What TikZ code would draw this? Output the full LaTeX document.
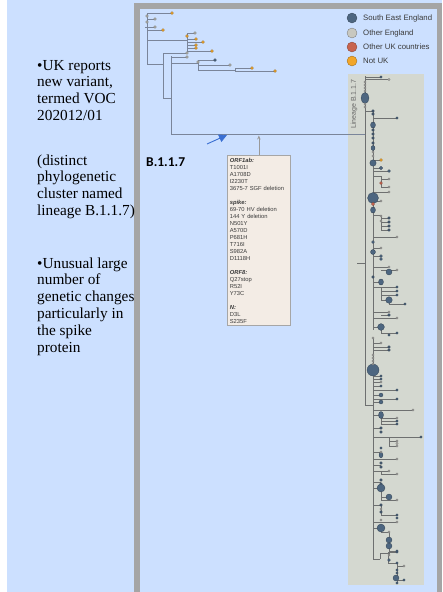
\documentclass[tikz,border=0pt]{standalone}
\usepackage{fontspec}
\setmainfont{Liberation Serif}
\setsansfont{Liberation Sans}
\newfontfamily\calibfont{Carlito}
\usetikzlibrary{arrows.meta}
\definecolor{bgblue}{HTML}{CCE0FF}
\definecolor{framegray}{HTML}{A5A5A5}
\definecolor{panelgray}{HTML}{D4D8D0}
\definecolor{boxfill}{HTML}{F3ECE5}
\definecolor{toptree}{HTML}{7A859A}
\definecolor{treegray}{HTML}{6E7070}
\definecolor{seblue}{HTML}{4D6680}
\definecolor{othereng}{HTML}{C8C8C0}
\definecolor{ukred}{HTML}{C8644F}
\definecolor{notuk}{HTML}{F2A62A}
\definecolor{arrowblue}{HTML}{3A6FD2}
\definecolor{txtgray}{HTML}{3A3A3A}
\tikzset{
  lefttext/.style={font=\fontsize{15.3}{16}\selectfont, text=black, inner sep=0pt, anchor=base west},
  legtext/.style={font=\sffamily\fontsize{7.8}{9}\selectfont, text=txtgray, inner sep=0pt, anchor=west},
  tt/.style={draw=toptree, line width=0.9pt},
  lt/.style={draw=treegray, line width=0.55pt},
  dk/.style={fill=seblue, draw=seblue!60!black, line width=0.25pt},
  gy/.style={fill=othereng, draw=black!55, line width=0.3pt},
  og/.style={fill=notuk, draw=notuk!55!black, line width=0.25pt},
  rd/.style={fill=ukred, draw=ukred!60!black, line width=0.25pt},
}
\begin{document}
\begin{tikzpicture}[x=1pt,y=-1pt]
\useasboundingbox (0,0) rectangle (442,592);
\fill[white] (0,0) rectangle (442,592);
\fill[bgblue] (7,0) rectangle (442,592);
% frame
\fill[framegray] (134,3) rectangle (442,592);
\fill[bgblue] (140,8.5) rectangle (437,592);
% left text
\foreach \t [count=\i] in {{•UK reports},{new variant,},{termed VOC},{202012/01}}
  \node[lefttext] (pa\i) at (37,{70+16.8*(\i-1)}) {\t};
\foreach \t [count=\i] in {{(distinct},{phylogenetic},{cluster named},{lineage B.1.1.7)}}
  \node[lefttext] (pb\i) at (37,{165+16.8*(\i-1)}) {\t};
\foreach \t [count=\i] in {{•Unusual large},{number of},{genetic changes},{particularly in},{the spike},{protein}}
  \node[lefttext] (pc\i) at (37,{268+16.8*(\i-1)}) {\t};
% legend
\foreach \c/\t/\y [count=\i] in {dk/South East England/18, gy/Other England/33, rd/Other UK countries/47, og/Not UK/61}{
  \fill[\c] (352,\y) circle (5pt);
  \node[legtext] (leg\i) at (363,\y) {\t};
}
% lineage panel
\fill[panelgray] (348,74) rectangle (424,585);
\node[rotate=90, font=\sffamily\fontsize{7}{8}\selectfont, text=black!60, inner sep=0pt] (lin) at (354,104) {Lineage B.1.1.7};
% top tree
\draw[tt] (147,13) -- (147,64);
\draw[tt] (147,13) -- (172,13);
\draw[tt] (147,19) -- (155,19);
\draw[tt] (145,27) -- (155,27);
\draw[tt] (147,30) -- (163,30);
\draw[tt] (147,40) -- (187,40);
\draw[tt] (187,33) -- (187,51);
\foreach \y/\x in {33/195,39/196,42/203,45/196,48/196,51/212} \draw[tt] (187,\y) -- (\x,\y);
\draw[tt] (147,64) -- (163,64);
\draw[tt] (163,53) -- (163,98) -- (171,98);
\draw[tt] (163,53) -- (187,53);
\draw[tt] (171,56) -- (171,134) -- (365,134);
\draw[tt] (171,57) -- (187,57);
\draw[tt] (171,63) -- (198,63);
\draw[tt] (198,60) -- (198,70);
\draw[tt] (198,60) -- (215,60);
\draw[tt] (198,65) -- (230,65);
\draw[tt] (198,70) -- (235,70);
\draw[tt] (235,68) -- (235,71);
\draw[tt] (235,68) -- (252,68);
\draw[tt] (235,71) -- (275,71);
\foreach \x/\y in {172/13,163/30,187/36,196/39,203/42,196/45,196/48,212/51,252/68,275/71} \fill[og] (\x,\y) circle (1.5pt);
\foreach \x/\y in {147/16,155/19,147/22,155/27,195/33,187/53,187/57,198/62,230/65} \fill[gy] (\x,\y) circle (1.4pt);
\fill[dk] (215,60) circle (1.5pt);
% lineage tree lines
\foreach \x/\a/\b in {365/76/405, 373/110/330, 373/338/559, 381/176/187, 381/215/230, 381/287/300, 389/300/304, 381/327/333, 381/413/424, 389/437/446, 381/471/474, 381/488/500, 381/505/515, 381/528/532, 389/532/556, 380/553/559, 388/553/563, 397/563/583}
  \draw[lt] (\x,\a) -- (\x,\b);
\foreach \a/\y/\b in {365/77/381, 365/79.5/389, 365/111/373, 373/118/397, 373/160/381, 373/168/381, 373/171/389, 373/176/381, 381/179/389, 381/187/389, 373/192/389, 373/201/381, 373/215/381, 381/218/389, 381/222/389, 381/226/389, 381/230/389, 373/237/397, 373/248/381, 373/256/381, 357/263/365, 373/267/389, 381/270/397, 373/282/381, 373/287/381, 381/287/397, 381/291/397, 381/295/397, 381/300/389, 389/304/405, 373/312/389, 381/315/389, 373/318/397, 373/327/381, 381/333/397, 373/343/381, 373/347/389, 373/350/389, 373/376/381, 373/379/381, 373/382/381, 373/386/381, 373/390/397, 373/395/381, 373/399/397, 373/402/381, 365/405/373, 373/410/413, 373/415/381, 381/418/397, 381/421/397, 381/424/397, 373/428/381, 373/437/389, 389/437/421, 389/441/397, 389/446/397, 373/452/381, 373/459/397, 373/465/381, 373/471/389, 381/474/397, 373/482/381, 373/488/381, 381/497/389, 381/500/397, 373/505/381, 381/515/397, 373/522/397, 373/528/381, 381/532/389, 389/551/397, 373/559/380, 380/553/388, 388/552/397, 388/563/397, 397/566/404, 397/580/404}
  \draw[lt] (\a,\y) -- (\b,\y);
% lineage tips
\foreach \x/\y/\r in {381/77/1.3, 373/111/1.4, 373/114/1.4, 397/118/1.3, 373/130/1.4, 373/134/1.4, 373/138/1.4, 373/143/1.4, 373/163/3.2, 381/168/1.8, 389/171/1.5, 389/218/1.4, 389/222/1.4, 389/226/1.4, 389/230/1.4, 373/242/1.5, 373/252/2.5, 381/256/1.5, 381/259/1.5, 389/272/3, 373/277/1.4, 397/287/1.3, 397/291/1.3, 397/295/1.3, 389/300/3.3, 405/304/1.3, 389/315/1.4, 381/327/3.4, 397/333/1.3, 389/335/1.3, 389/347/1.4, 389/350/1.4, 373/370/6, 381/376/1.3, 381/379/1.3, 381/386/1.3, 397/390/1.3, 381/395/2, 397/399/1.3, 381/402/2, 397/421/1.3, 397/424/1.3, 381/428/1.4, 381/432/1.4, 421/437/1.3, 381/448/1.3, 381/463/1.4, 381/467/1.4, 381/480/1.4, 381/484/1.4, 381/488/4, 389/497/3, 381/505/1.4, 381/512/1.4, 397/515/1.3, 397/518/1.3, 381/528/4, 389/540/3, 389/546/3, 397/551/1.3, 397/552/1.3, 389/560/1.5, 397/563/1.3, 397/570/1.3, 397/573/1.3, 396/578/3, 404/580/1.3, 397/583/1.3, 373/198/5.5}
  \fill[dk] (\x,\y) circle (\r pt);
\foreach \x/\y/\a/\b in {365/98/4/5.5, 373/125/2.5/3, 373/148/2/2.5, 373/210/2.5/3, 381/282/2.5/3, 381/415/2.5/3.5, 381/455/2/2.8}
  \fill[dk] (\x,\y) ellipse [x radius=\a pt, y radius=\b pt];
\foreach \x/\y in {389/79.5, 365/82, 365/85, 365/88, 365/91, 365/104, 365/107, 373/152, 373/156, 389/179, 389/187, 389/192, 381/201, 381/216, 381/221, 397/237, 381/248, 389/267, 397/270, 389/312, 397/318, 373/338, 381/343, 373/355, 373/358, 373/361, 373/364, 381/382, 413/410, 397/418, 397/441, 397/443.5, 397/446, 381/452, 397/459, 389/471, 397/474, 397/500, 381/509, 381/520, 397/522, 389/532, 389/555, 404/566}
  \fill[gy] (\x,\y) circle (1.2pt);
\fill[og] (381,160) circle (1.5pt);
\fill[rd] (381,183) circle (1.5pt);
\fill[rd] (373,204) circle (1.7pt);
% mutation box
\node[draw=black!35, fill=boxfill, line width=0.7pt, anchor=north west, inner xsep=2.5pt, inner ysep=2.5pt, text width=58pt, align=left, text=txtgray, font=\sffamily\fontsize{5.8}{7}\selectfont] (mut) at (227,155)
{\textbf{\textit{ORF1ab:}}\\T1001I\\A1708D\\I2230T\\3675-7 SGF deletion\\[7pt]
\textbf{\textit{spike:}}\\69-70 HV deletion\\144 Y deletion\\N501Y\\A570D\\P681H\\T716I\\S982A\\D1118H\\[7pt]
\textbf{\textit{ORF8:}}\\Q27stop\\R52I\\Y73C\\[7pt]
\textbf{\textit{N:}}\\D3L\\S235F};
\coordinate (junc) at (mut.north |- 0,135.5);
\draw[draw=black!40, line width=0.7pt, -{Stealth[length=4pt,width=3.5pt]}] (mut.north) -- (junc);
% B.1.1.7 label and blue arrow
\node[font=\calibfont\bfseries\fontsize{13.5}{15}\selectfont, anchor=base west, inner sep=0pt] (lab) at (146,166.5) {B.1.1.7};
\coordinate (ba) at (207,144);
\coordinate (bb) at (227,135);
\draw[draw=arrowblue, line width=0.9pt, -{Triangle[length=8pt,width=8pt]}] (ba) -- (bb);
\end{tikzpicture}
\end{document}
